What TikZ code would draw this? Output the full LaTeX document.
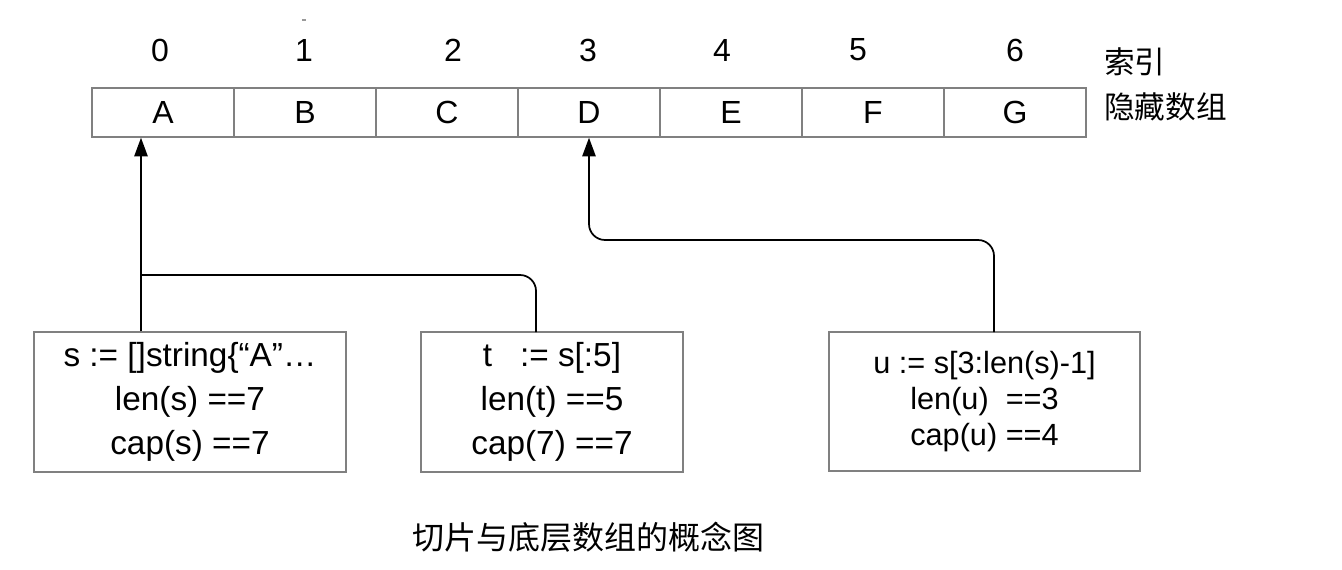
\documentclass[tikz,border=0pt]{standalone}
\usepackage{fontspec}
\setmainfont{Liberation Sans}
\newfontfamily\cjk{Noto Sans CJK SC}
\usetikzlibrary{arrows.meta}

\begin{document}
\begin{tikzpicture}[
  x=0.75pt,y=-0.75pt,
  cell/.style={draw=black!50,line width=1.1pt,minimum width=106.5pt,minimum height=36.75pt,inner sep=0pt,font=\fontsize{24}{29}\selectfont},
  index/.style={font=\fontsize{24}{29}\selectfont},
  sidelabel/.style={anchor=west,inner sep=0pt,font=\cjk\fontsize{23}{27}\selectfont},
  slicebox/.style={draw=black!50,line width=1.1pt,align=center,inner sep=0pt,minimum height=105pt,font=\fontsize{25}{33}\selectfont},
  link/.style={line width=1.3pt},
  route/.style={link,-{Triangle[length=14pt,width=10pt]}}
]
  \useasboundingbox (0,0) rectangle (1342,570);

  % hidden array and its indices
  \foreach \ch [count=\i from 0] in {A,B,C,D,E,F,G}
    \node[cell] (c\i) at ({163+142*\i},112.5) {\ch};
  \foreach \x [count=\i from 0] in {160,304,453,588,722,858,1015}
    \node[index] (i\i) at (\x,50) {\i};
  \draw[black!40,line width=1.5pt] (302,20) -- (306,20);

  \node[sidelabel] (idxlabel) at (1104,62) {索引};
  \node[sidelabel] (arrlabel) at (1104,107) {隐藏数组};

  % slices
  \node[slicebox,minimum width=234pt] (sbox) at (190,402)
    {s := []string\{“A”…\\len(s) ==7\\cap(s) ==7};
  \node[slicebox,minimum width=196.5pt] (tbox) at (552,402)
    {t\ \ \ := s[:5]\\len(t) ==5\\cap(7) ==7};
  \node[slicebox,minimum width=233.25pt,minimum height=104.25pt,font=\fontsize{23}{27}\selectfont] (ubox) at (984.5,401.5)
    {u := s[3:len(s)-1]\\len(u)\ \ ==3\\cap(u) ==4};

  \node[font=\cjk\fontsize{24}{28}\selectfont] (caption) at (588,537) {切片与底层数组的概念图};

  % pointers into the array
  \coordinate (sjoin) at (141,275);
  \coordinate (tfoot) at (536,332);
  \coordinate (ufoot) at (994,332);
  \coordinate (uturn) at (994,240);
  \draw[route] (sbox.north -| sjoin) -- (c0.south -| sjoin);
  \draw[link,rounded corners=12pt] (tfoot) |- (sjoin);
  \draw[route,rounded corners=12pt] (ufoot) -- (uturn) -| (c3.south);
\end{tikzpicture}
\end{document}
